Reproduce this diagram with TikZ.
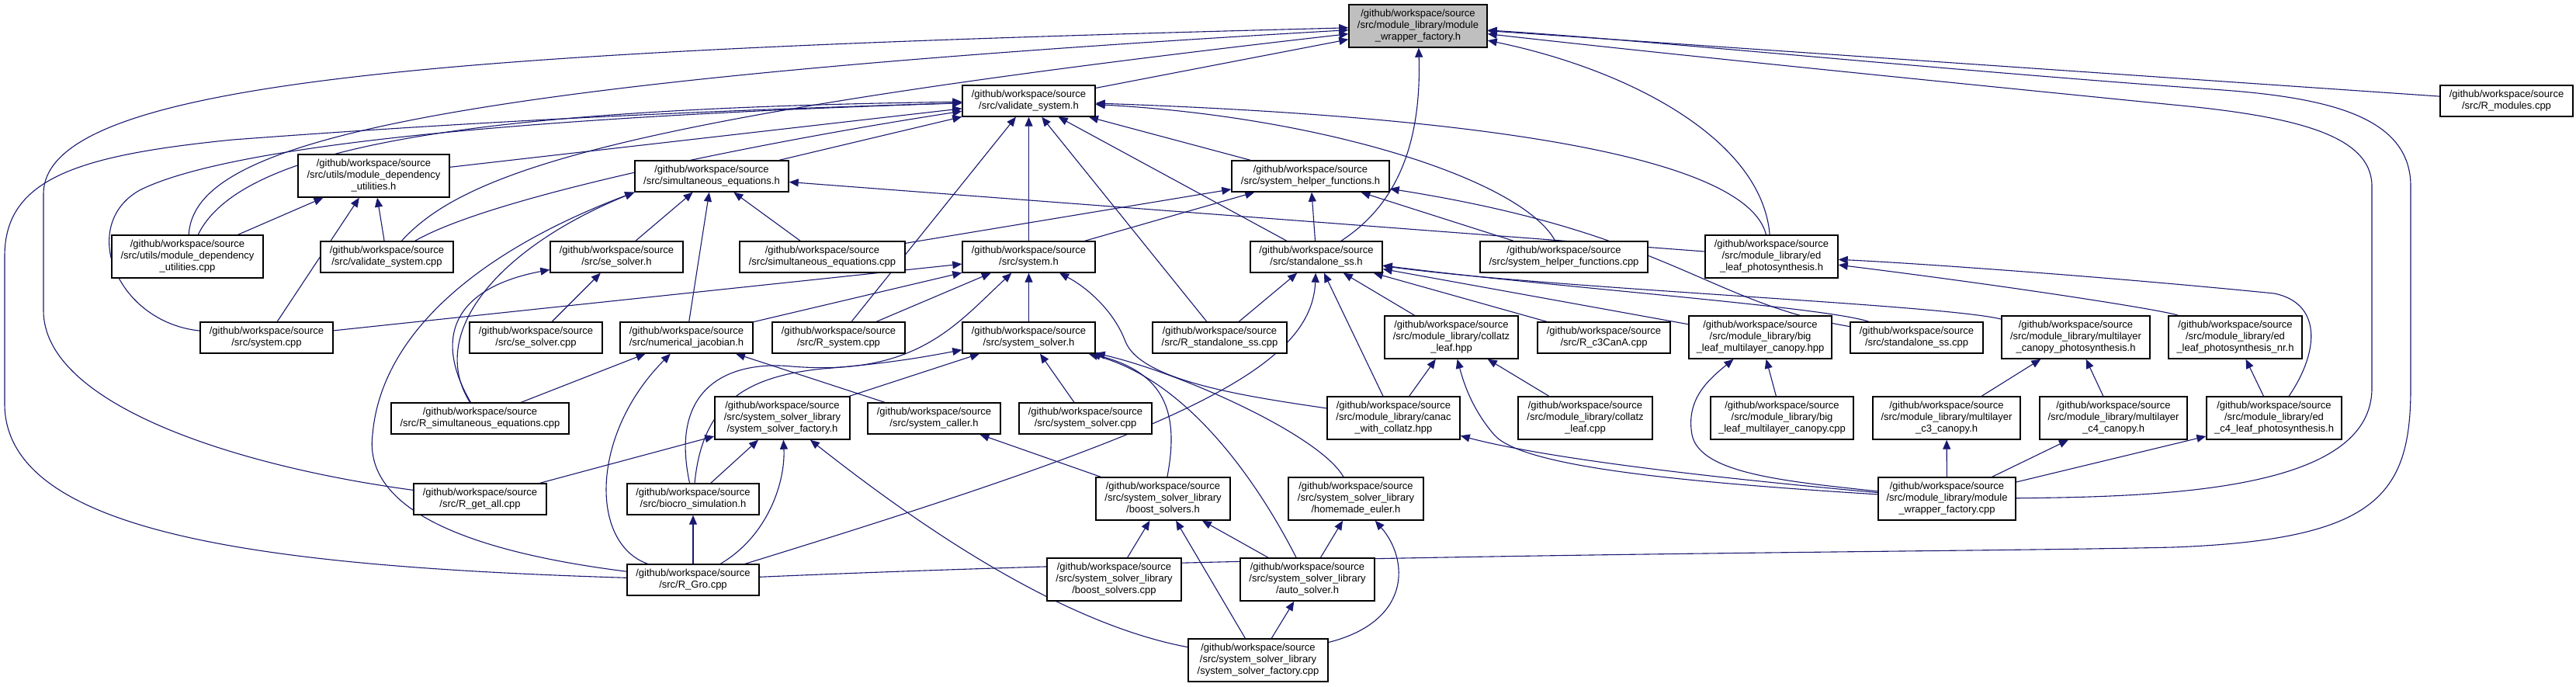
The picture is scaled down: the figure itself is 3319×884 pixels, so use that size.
\documentclass[tikz,border=0pt]{standalone}
\usepackage{fontspec}
\newfontfamily\graphfont{Liberation Sans}
\usetikzlibrary{arrows.meta,backgrounds}
\definecolor{edgeblue}{HTML}{191970}
\definecolor{rootgray}{HTML}{BFBFBF}
\newcommand{\gws}{/github/workspace/source}
\tikzset{
  box/.style={draw=black, line width=0.7pt, fill=white, align=center,
    inner sep=0pt, minimum height=20pt, minimum width=#1*0.5pt,
    font=\graphfont\fontsize{6.5pt}{7.5pt}\selectfont},
  tallbox/.style={box=#1, minimum height=27.5pt},
  rootbox/.style={tallbox=#1, fill=rootgray},
  inc/.style={draw=edgeblue, line width=0.55pt, -{Triangle[length=6pt,width=5pt]}},
}

\begin{document}
\begin{tikzpicture}[x=0.5pt,y=-0.5pt]
\useasboundingbox (0,0) rectangle (3319,884);

% row 0 and 1
\node[rootbox=178] (root) at (1827,33.5) {\gws\\/src/module\_library/module\\\_wrapper\_factory.h};
\node[box=171] (vsh) at (1325.5,130) {\gws\\/src/validate\_system.h};
\node[box=171] (rmod) at (3229.5,130) {\gws\\/src/R\_modules.cpp};

% row 2
\node[tallbox=195] (mduh) at (481.5,226.5) {\gws\\/src/utils/module\_dependency\\\_utilities.h};
\node[box=198] (seqh) at (917,227) {\gws\\/src/simultaneous\_equations.h};
\node[box=203] (shfh) at (1688.5,227) {\gws\\/src/system\_helper\_functions.h};

% row 3
\node[tallbox=195] (mducpp) at (241.5,330.5) {\gws\\/src/utils/module\_dependency\\\_utilities.cpp};
\node[box=171] (vscpp) at (498.5,331) {\gws\\/src/validate\_system.cpp};
\node[box=171] (seh) at (794.5,331) {\gws\\/src/se\_solver.h};
\node[box=213] (seqcpp) at (1059.5,331) {\gws\\/src/simultaneous\_equations.cpp};
\node[box=171] (sysh) at (1325.5,331) {\gws\\/src/system.h};
\node[box=170] (ssh) at (1696,331) {\gws\\/src/standalone\_ss.h};
\node[box=216] (shfcpp) at (2015,331) {\gws\\/src/system\_helper\_functions.cpp};
\node[tallbox=171] (edleaf) at (2282.5,330.5) {\gws\\/src/module\_library/ed\\\_leaf\_photosynthesis.h};

% row 4
\node[box=171] (syscpp) at (343.5,435) {\gws\\/src/system.cpp};
\node[box=171] (secpp) at (690.5,435) {\gws\\/src/se\_solver.cpp};
\node[box=171] (numjac) at (884.5,435) {\gws\\/src/numerical\_jacobian.h};
\node[box=171] (rsyscpp) at (1080.5,435) {\gws\\/src/R\_system.cpp};
\node[box=171] (ssolh) at (1325.5,435) {\gws\\/src/system\_solver.h};
\node[box=173] (rsscpp) at (1571.5,435) {\gws\\/src/R\_standalone\_ss.cpp};
\node[tallbox=172] (collatzh) at (1870,434.5) {\gws\\/src/module\_library/collatz\\\_leaf.hpp};
\node[box=171] (rc3) at (2066.5,435) {\gws\\/src/R\_c3CanA.cpp};
\node[tallbox=184] (bigh) at (2268,434.5) {\gws\\/src/module\_library/big\\\_leaf\_multilayer\_canopy.hpp};
\node[box=171] (sscpp) at (2469.5,435) {\gws\\/src/standalone\_ss.cpp};
\node[tallbox=191] (mlcph) at (2674.5,434.5) {\gws\\/src/module\_library/multilayer\\\_canopy\_photosynthesis.h};
\node[tallbox=172] (nrh) at (2880,434.5) {\gws\\/src/module\_library/ed\\\_leaf\_photosynthesis\_nr.h};

% row 5
\node[box=229] (rsecpp) at (618.5,539) {\gws\\/src/R\_simultaneous\_equations.cpp};
\node[tallbox=174] (ssfh) at (1008,538.5) {\gws\\/src/system\_solver\_library\\/system\_solver\_factory.h};
\node[box=171] (syscall) at (1203.5,539) {\gws\\/src/system\_caller.h};
\node[box=171] (ssolcpp) at (1398.5,539) {\gws\\/src/system\_solver.cpp};
\node[tallbox=171] (canac) at (1795.5,538.5) {\gws\\/src/module\_library/canac\\\_with\_collatz.hpp};
\node[tallbox=173] (collatzcpp) at (2042.5,538.5) {\gws\\/src/module\_library/collatz\\\_leaf.cpp};
\node[tallbox=184] (bigcpp) at (2296,538.5) {\gws\\/src/module\_library/big\\\_leaf\_multilayer\_canopy.cpp};
\node[tallbox=190] (mlc3) at (2508,538.5) {\gws\\/src/module\_library/multilayer\\\_c3\_canopy.h};
\node[tallbox=190] (mlc4) at (2723,538.5) {\gws\\/src/module\_library/multilayer\\\_c4\_canopy.h};
\node[tallbox=174] (edc4) at (2930,538.5) {\gws\\/src/module\_library/ed\\\_c4\_leaf\_photosynthesis.h};

% row 6 to 8
\node[box=171] (rgetall) at (618.5,643) {\gws\\/src/R\_get\_all.cpp};
\node[box=170] (biocro) at (893,643) {\gws\\/src/biocro\_simulation.h};
\node[tallbox=173] (boosth) at (1498.5,642.5) {\gws\\/src/system\_solver\_library\\/boost\_solvers.h};
\node[tallbox=174] (homeh) at (1747,642.5) {\gws\\/src/system\_solver\_library\\/homemade\_euler.h};
\node[tallbox=177] (mwfcpp) at (2508.5,642.5) {\gws\\/src/module\_library/module\\\_wrapper\_factory.cpp};
\node[box=170] (rgro) at (893,747) {\gws\\/src/R\_Gro.cpp};
\node[tallbox=173] (boostcpp) at (1435.5,746.5) {\gws\\/src/system\_solver\_library\\/boost\_solvers.cpp};
\node[tallbox=173] (autoh) at (1684.5,746.5) {\gws\\/src/system\_solver\_library\\/auto\_solver.h};
\node[tallbox=180] (ssfcpp) at (1621,850.5) {\gws\\/src/system\_solver\_library\\/system\_solver\_factory.cpp};

\begin{scope}[on background layer]
\fill[white] (0,0) rectangle (3319,884);
% module_wrapper_factory.h
\draw[inc] (vsh) -- (root);
\draw[inc] (ssh) .. controls (1790,270) and (1832,200) .. (root);
\draw[inc] (rgetall) .. controls (300,600) and (56,520) .. (56,400) -- (56,250) .. controls (56,100) and (600,65) .. (root);
\draw[inc] (mducpp) .. controls (250,190) and (500,110) .. (root);
\draw[inc] (vscpp) .. controls (600,220) and (800,150) .. (root);
\draw[inc] (rmod) -- (root);
\draw[inc] (rgro) .. controls (1700,712) and (2500,712) .. (2800,705) .. controls (3060,695) and (3106,640) .. (3106,500) -- (3106,240) .. controls (3106,150) and (3000,125) .. (2850,115) .. controls (2500,90) and (2100,50) .. (root);
\draw[inc] (mwfcpp) .. controls (2800,640) and (3056,630) .. (3056,500) -- (3056,240) .. controls (3056,175) and (2960,150) .. (2800,135) .. controls (2500,105) and (2150,70) .. (root);
\draw[inc] (edleaf) .. controls (2270,180) and (2100,90) .. (root);

% validate_system.h
\draw[inc] (mduh) -- (vsh);
\draw[inc] (mducpp) .. controls (310,190) and (600,140) .. (vsh);
\draw[inc] (vscpp) .. controls (640,250) and (1000,180) .. (vsh);
\draw[inc] (syscpp) .. controls (150,415) and (100,290) .. (180,245) .. controls (300,185) and (700,150) .. (vsh);
\draw[inc] (rgro) .. controls (350,730) and (6,690) .. (6,520) -- (6,330) .. controls (6,230) and (100,200) .. (300,180) .. controls (700,150) and (1000,140) .. (vsh);
\draw[inc] (seqh) -- (vsh);
\draw[inc] (sysh) -- (vsh);
\draw[inc] (rsyscpp) -- (vsh);
\draw[inc] (rsscpp) -- (vsh);
\draw[inc] (ssh) -- (vsh);
\draw[inc] (shfh) -- (vsh);
\draw[inc] (shfcpp) .. controls (1960,230) and (1700,150) .. (vsh);
\draw[inc] (edleaf) .. controls (2250,200) and (1900,150) .. (vsh);

% module_dependency_utilities.h
\draw[inc] (mducpp) -- (mduh);
\draw[inc] (syscpp) -- (mduh);
\draw[inc] (vscpp) -- (mduh);

% simultaneous_equations.h
\draw[inc] (rgro) .. controls (560,705) and (470,640) .. (480,560) .. controls (490,440) and (600,330) .. (seqh.south west);
\draw[inc] (rsecpp) .. controls (550,430) and (640,320) .. (seqh.south west);
\draw[inc] (seh) -- (seqh);
\draw[inc] (numjac) -- (seqh);
\draw[inc] (seqcpp) -- (seqh);
\draw[inc] (edleaf) -- (seqh);

% system_helper_functions.h
\draw[inc] (sysh) -- (shfh);
\draw[inc] (seqcpp) -- (shfh);
\draw[inc] (ssh) -- (shfh);
\draw[inc] (shfcpp) -- (shfh);
\draw[inc] (sscpp) .. controls (2200,390) and (2150,300) .. (shfh);

% system.h
\draw[inc] (syscpp) -- (sysh);
\draw[inc] (numjac) -- (sysh);
\draw[inc] (rsyscpp) -- (sysh);
\draw[inc] (biocro) .. controls (860,490) and (950,465) .. (1020,472) .. controls (1180,485) and (1230,420) .. (sysh);
\draw[inc] (ssolh) -- (sysh);
\draw[inc] (canac) .. controls (1600,510) and (1470,490) .. (1450,440) .. controls (1435,400) and (1400,370) .. (sysh);

% system_solver.h
\draw[inc] (biocro) .. controls (905,520) and (960,485) .. (1060,475) .. controls (1150,468) and (1200,458) .. (ssolh);
\draw[inc] (ssfh) -- (ssolh);
\draw[inc] (ssolcpp) -- (ssolh);
\draw[inc] (boosth) .. controls (1520,530) and (1500,480) .. (ssolh);
\draw[inc] (autoh) .. controls (1620,620) and (1530,490) .. (ssolh);
\draw[inc] (homeh) .. controls (1700,560) and (1520,480) .. (ssolh);

% se_solver.h, numerical_jacobian.h
\draw[inc] (secpp) -- (seh);
\draw[inc] (rsecpp) .. controls (555,430) and (590,370) .. (seh);
\draw[inc] (rsecpp) -- (numjac);
\draw[inc] (rgro) .. controls (760,700) and (760,560) .. (numjac);
\draw[inc] (syscall) -- (numjac);

% solver library
\draw[inc] (rgetall) -- (ssfh);
\draw[inc] (biocro) -- (ssfh);
\draw[inc] (rgro) .. controls (990,690) and (1012,620) .. (ssfh);
\draw[inc] (ssfcpp) .. controls (1350,800) and (1150,650) .. (ssfh);
\draw[inc] (boosth) -- (syscall);
\draw[inc] (rgro) -- (biocro);
\draw[inc] (boostcpp) -- (boosth);
\draw[inc] (ssfcpp) -- (boosth);
\draw[inc] (autoh) -- (boosth);
\draw[inc] (autoh) -- (homeh);
\draw[inc] (ssfcpp) .. controls (1820,800) and (1815,720) .. (homeh);
\draw[inc] (ssfcpp) -- (autoh);

% standalone_ss.h
\draw[inc] (rsscpp) -- (ssh);
\draw[inc] (rgro) .. controls (1500,560) and (1690,480) .. (ssh);
\draw[inc] (canac) -- (ssh);
\draw[inc] (collatzh) -- (ssh);
\draw[inc] (rc3) -- (ssh);
\draw[inc] (bigh) -- (ssh);
\draw[inc] (sscpp) .. controls (2350,395) and (2000,370) .. (ssh);
\draw[inc] (mlcph) .. controls (2500,392) and (2000,372) .. (ssh);

% module library
\draw[inc] (canac) -- (collatzh);
\draw[inc] (collatzcpp) -- (collatzh);
\draw[inc] (mwfcpp) .. controls (2150,620) and (1960,600) .. (1925,560) .. controls (1895,525) and (1885,490) .. (collatzh);
\draw[inc] (mwfcpp) .. controls (2200,615) and (1990,590) .. (canac);
\draw[inc] (bigcpp) -- (bigh);
\draw[inc] (mwfcpp) .. controls (2300,620) and (2190,610) .. (2180,560) .. controls (2172,515) and (2200,490) .. (bigh);
\draw[inc] (mlc3) -- (mlcph);
\draw[inc] (mlc4) -- (mlcph);
\draw[inc] (edc4) -- (nrh);
\draw[inc] (edc4) .. controls (2990,450) and (2990,390) .. (2930,378) .. controls (2700,355) and (2450,338) .. (edleaf);
\draw[inc] (nrh) .. controls (2790,400) and (2600,370) .. (edleaf);
\draw[inc] (mwfcpp) -- (mlc3);
\draw[inc] (mwfcpp) -- (mlc4);
\draw[inc] (mwfcpp) -- (edc4.195);
\end{scope}
\end{tikzpicture}
\end{document}
